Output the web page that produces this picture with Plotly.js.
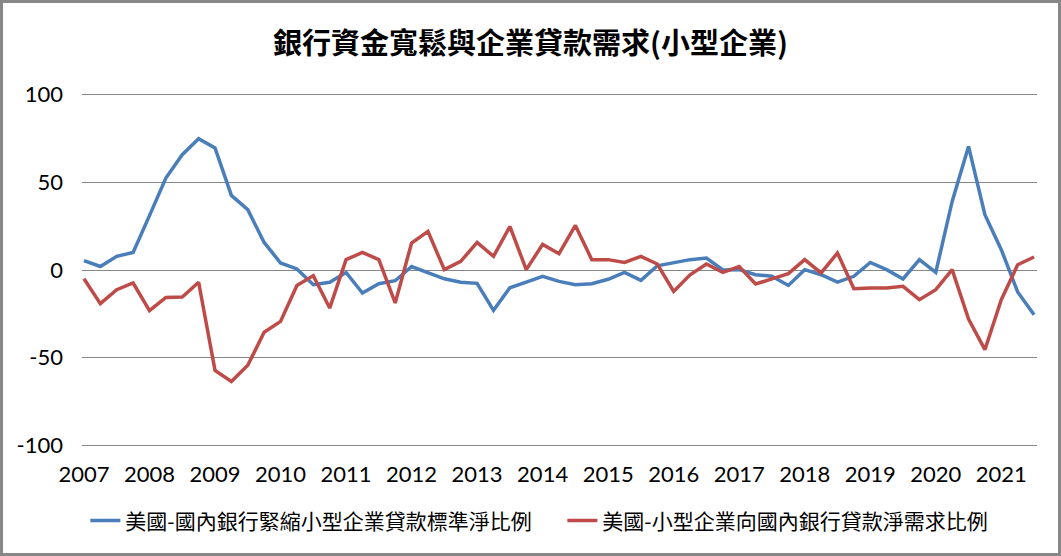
<!DOCTYPE html>
<html>
<head>
<meta charset="utf-8">
<script src="https://cdn.plot.ly/plotly-3.0.1.min.js"></script>
<style>
html,body{margin:0;padding:0;background:#fff;}
#wrap{position:relative;width:1061px;height:556px;}
#chart{width:1061px;height:556px;}
#frame{position:absolute;left:0;top:0;width:1061px;height:556px;box-sizing:border-box;border:3px solid #878787;pointer-events:none;}
</style>
</head>
<body>
<div id="wrap"><div id="chart"></div><div id="frame"></div></div>
<script>
// Quarterly categories 2007Q1 .. 2021Q3
const years = [2007,2008,2009,2010,2011,2012,2013,2014,2015,2016,2017,2018,2019,2020,2021];
const quarters = [];
years.forEach(y => { for (let q = 1; q <= 4; q++) { if (y === 2021 && q > 3) break; quarters.push(y + 'Q' + q); } });
const tickVals = years.map(y => y + 'Q1');
const tickText = years.map(y => String(y));

const seriesNames = ['美國-國內銀行緊縮小型企業貸款標準淨比例', '美國-小型企業向國內銀行貸款淨需求比例'];

// 美國-國內銀行緊縮小型企業貸款標準淨比例
const tighten = [
  5.3, 2, 7.8, 10,
  31, 52.4, 65.7, 74.8,
  69.5, 42.5, 34.4, 15.7,
  4, 0.6, -8.4, -7,
  -1.4, -13.1, -7.8, -6.1,
  2, -1.4, -5, -7,
  -7.6, -23, -10.1, -6.9,
  -3.6, -6.5, -8.4, -7.8,
  -5.3, -1.4, -5.9, 2.4,
  4.3, 5.9, 6.8, 0,
  0.2, -2.7, -3.6, -8.8,
  0.2, -2.7, -6.9, -3.6,
  4.3, 0.2, -5.1, 5.9,
  -1.4, 39.1, 70.4, 31.5,
  11.6, -12.5, -25.5
];
// 美國-小型企業向國內銀行貸款淨需求比例
const demand = [
  -5, -19.2, -11.2, -7.4,
  -23.2, -15.6, -15.4, -7,
  -57.2, -63.5, -54.3, -35.5,
  -29.3, -8.8, -3.2, -21.7,
  5.9, 10, 5.9, -18.8,
  15.4, 22, 0.2, 4.9,
  15.7, 7.8, 24.8, 0.2,
  14.6, 9.3, 25.4, 5.9,
  5.9, 4.3, 7.8, 3.4,
  -12.2, -2.7, 3.4, -1.4,
  2, -8, -5.1, -2.1,
  5.9, -1.7, 9.7, -10.7,
  -10.3, -10.3, -9.3, -16.9,
  -11.2, 0.2, -27.9, -45.4,
  -16.9, 3, 7.4
];

const yTicks = [-100, -50, 0, 50, 100];

const numFont = 'Lato, "Noto Sans CJK TC", sans-serif';
const cjkFont = '"Noto Sans CJK TC", "Noto Sans CJK SC", sans-serif';

const traces = [
  {x: quarters, y: tighten, name: seriesNames[0], type: 'scatter', mode: 'lines',
   line: {color: '#4A7EBB', width: 3.5}, legendwidth: 432},
  {x: quarters, y: demand, name: seriesNames[1], type: 'scatter', mode: 'lines',
   line: {color: '#BE4B48', width: 3.5}, legendwidth: 395}
];

const layout = {
  width: 1061, height: 556,
  paper_bgcolor: '#ffffff', plot_bgcolor: '#ffffff',
  margin: {l: 82, r: 24, t: 91, b: 107},
  title: {text: '銀行資金寬鬆與企業貸款需求(小型企業)', x: 0.5, xanchor: 'center', y: 0.922, yanchor: 'middle',
          font: {family: cjkFont, size: 29, color: '#000', weight: 'bold'}},
  xaxis: {type: 'category', range: [-0.12, 58.18], tickmode: 'array', tickvals: tickVals, ticktext: tickText,
          showgrid: false, zeroline: false, showline: false, ticks: '', ticklabelstandoff: 10,
          tickfont: {family: numFont, size: 22, color: '#000'}},
  yaxis: {range: [-102, 102], tickmode: 'array', tickvals: yTicks, ticktext: yTicks.map(String),
          showgrid: true, gridcolor: '#868686', gridwidth: 1, zeroline: false, showline: false,
          ticks: '', ticklabelstandoff: 18,
          tickfont: {family: numFont, size: 22, color: '#000'}},
  showlegend: true,
  legend: {orientation: 'h', x: 0.0035, xanchor: 'left', y: -0.201, yanchor: 'middle',
           font: {family: cjkFont, size: 21, color: '#000'}, tracegroupgap: 0,
           bgcolor: 'rgba(0,0,0,0)'}
};

Plotly.newPlot('chart', traces, layout, {displayModeBar: false, staticPlot: true});
</script>
</body>
</html>
